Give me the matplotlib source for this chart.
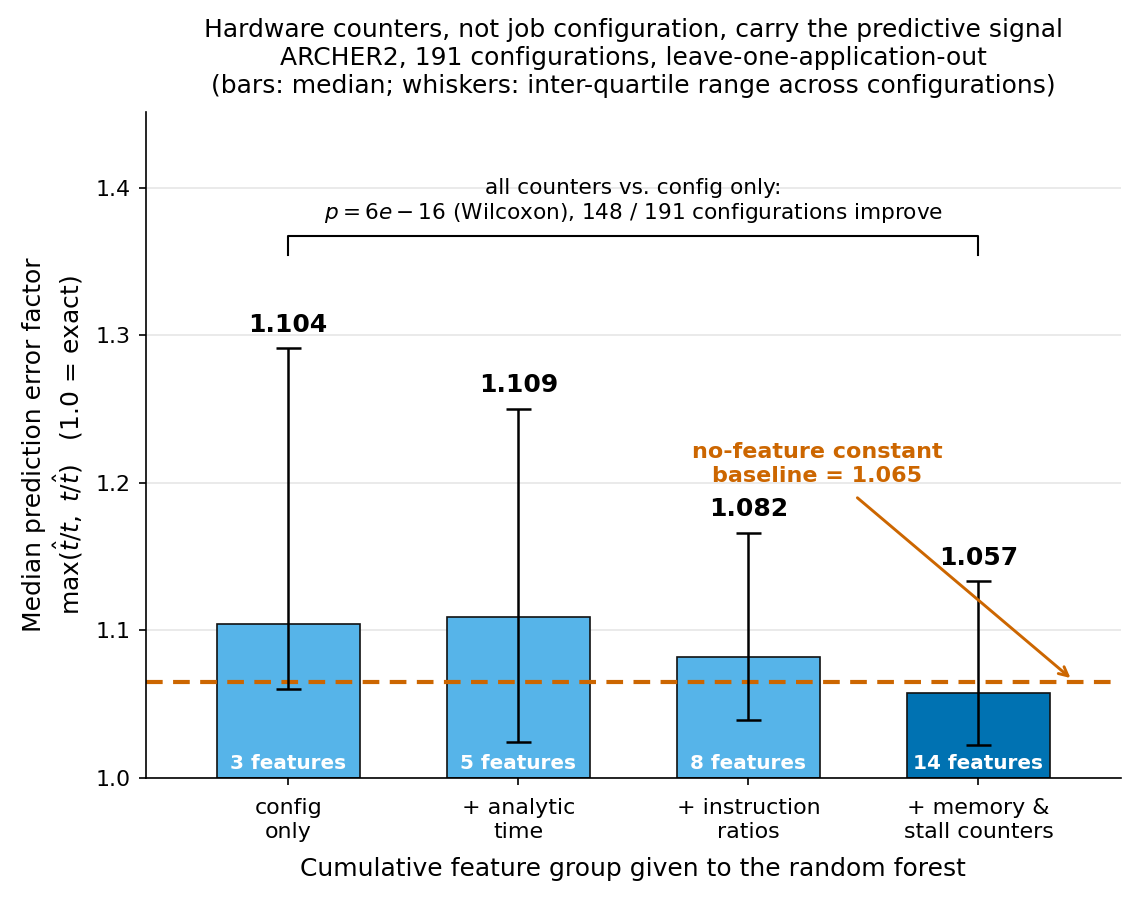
import matplotlib
matplotlib.use('Agg')
import matplotlib.pyplot as plt
import numpy as np

# data
groups = ['config\nonly', '+ analytic\ntime', '+ instruction\nratios', '+ memory &\nstall counters']
n_features = [3, 5, 8, 14]
medians = [1.104, 1.109, 1.082, 1.057]
q25 = [1.060, 1.024, 1.039, 1.022]
q75 = [1.291, 1.250, 1.166, 1.133]
baseline = 1.065

LIGHT = '#56B4E9'
DARK = '#0072B2'
ORANGE = '#CC6600'

fig, ax = plt.subplots(figsize=(7.58, 6.007), dpi=150)

x = np.arange(len(groups))
colors = [LIGHT] * (len(groups) - 1) + [DARK]
bottom = 1.0
heights = [m - bottom for m in medians]
ax.bar(x, heights, bottom=bottom, width=0.62, color=colors,
       edgecolor='#111111', linewidth=0.8, zorder=2)

err_lo = [m - lo for m, lo in zip(medians, q25)]
err_hi = [hi - m for m, hi in zip(medians, q75)]
ax.errorbar(x, medians, yerr=[err_lo, err_hi], fmt='none', ecolor='black',
            elinewidth=1.2, capsize=6, capthick=1.2, zorder=3)

for i in range(len(groups)):
    ax.text(x[i], q75[i] + 0.008, f'{medians[i]:.3f}', ha='center', va='bottom',
            fontsize=12, fontweight='bold', zorder=4)
    ax.text(x[i], 1.003, f'{n_features[i]} features', ha='center', va='bottom',
            fontsize=9.6, fontweight='bold', color='white', zorder=4)

ax.axhline(baseline, color=ORANGE, linestyle='--', linewidth=2, dashes=(4, 2.5), zorder=2.5)
ax.annotate('no-feature constant\nbaseline = 1.065', xy=(3.4, 1.0675), xytext=(2.3, 1.198),
            ha='center', va='bottom', color=ORANGE, fontsize=10.7, fontweight='bold',
            arrowprops=dict(arrowstyle='->', color=ORANGE, lw=1.4,
                            shrinkA=6, shrinkB=0), zorder=5)

# bracket comparing first and last group
yb = 1.3675
ax.plot([x[0], x[0], x[-1], x[-1]], [yb - 0.0135, yb, yb, yb - 0.0135],
        color='black', linewidth=1.0, zorder=3)
ax.text((x[0] + x[-1]) / 2, yb + 0.007,
        'all counters vs. config only:\n$p = 6e-16$ (Wilcoxon), 148 / 191 configurations improve',
        ha='center', va='bottom', fontsize=10.4)

ax.set_xlim(-0.62, 3.62)
ax.set_ylim(1.0, 1.4515)
ax.set_yticks([1.0, 1.1, 1.2, 1.3, 1.4])
ax.set_xticks(x)
ax.set_xticklabels(groups, fontsize=10.6)
ax.tick_params(axis='x', pad=6.5)
ax.tick_params(axis='y', labelsize=10.6)
ax.yaxis.grid(True, color='#e6e6e6', linewidth=0.8, zorder=0)
ax.set_axisbelow(True)
ax.spines['top'].set_visible(False)
ax.spines['right'].set_visible(False)

ax.set_xlabel('Cumulative feature group given to the random forest', fontsize=12, labelpad=7.5)
ax.set_ylabel('Median prediction error factor\n$\\max(\\hat{t}/t,\\ t/\\hat{t})$   (1.0 = exact)',
              fontsize=12, labelpad=5)
ax.set_title('Hardware counters, not job configuration, carry the predictive signal\n'
             'ARCHER2, 191 configurations, leave-one-application-out\n'
             '(bars: median; whiskers: inter-quartile range across configurations)',
             fontsize=12, pad=9)

fig.subplots_adjust(left=0.128, right=0.986, bottom=0.137, top=0.876)
fig.savefig('out.png', dpi=150)
